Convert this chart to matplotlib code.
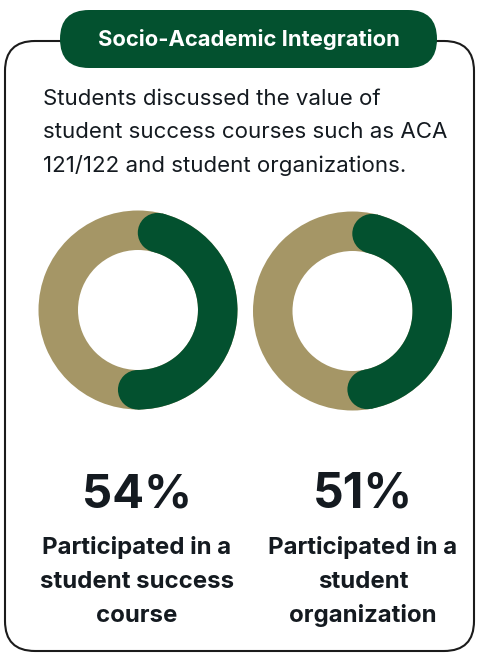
import matplotlib.pyplot as plt
from matplotlib.patches import Wedge, Circle, FancyBboxPatch
import numpy as np

# Data
title = "Socio-Academic Integration"
intro = ["Students discussed the value of",
         "student success courses such as ACA",
         "121/122 and student organizations."]
percents = [54, 51]
labels = [["Participated in a", "student success", "course"],
          ["Participated in a", "student", "organization"]]

GREEN = "#03512f"
TAN = "#a59666"
INK = "#141a20"
FONT = "Inter"

W, H = 478, 654
fig = plt.figure(figsize=(W / 100, H / 100), dpi=100)
ax = fig.add_axes([0, 0, 1, 1])
ax.set_xlim(0, W)
ax.set_ylim(H, 0)
ax.set_aspect("equal")
ax.axis("off")
renderer = fig.canvas.get_renderer()


def fit_width(txt, width_px):
    # scale the font so the text spans the given pixel width
    w = txt.get_window_extent(renderer).width
    txt.set_fontsize(txt.get_fontsize() * width_px / w)


# Outer frame
frame = FancyBboxPatch((5, 41), 469, 610,
                       boxstyle="round,pad=0,rounding_size=30",
                       fc="white", ec="#1b1b1b", lw=1.5)
ax.add_patch(frame)

# Title pill
pill = FancyBboxPatch((60, 10), 377, 58,
                      boxstyle="round,pad=0,rounding_size=29",
                      fc=GREEN, ec="none")
ax.add_patch(pill)
t = ax.text(248.5, 40, title, color="white", fontsize=13, fontweight="bold",
            family=FONT, ha="center", va="center")
fit_width(t, 302)

# Intro text
for i, line in enumerate(intro):
    t = ax.text(43, 105 + i * 33.5, line, color=INK, fontsize=14, family=FONT,
                ha="left", va="baseline")
    if i == 1:
        fit_width(t, 404)
        intro_size = t.get_fontsize()
for tx in ax.texts[1:]:
    tx.set_fontsize(intro_size)

# Donuts
centers = [(138, 310), (352.5, 311)]
R_OUT, R_IN = 99.5, 60
r_mid = (R_OUT + R_IN) / 2
half = (R_OUT - R_IN) / 2
cap = np.degrees(half / r_mid)

for (cx, cy), p in zip(centers, percents):
    ax.add_patch(Wedge((cx, cy), R_OUT, 0, 360, width=R_OUT - R_IN,
                       fc=TAN, ec="none"))
    # clockwise from the top (y axis inverted)
    a0 = -90 + cap
    a1 = -90 + p / 100 * 360 - cap
    ax.add_patch(Wedge((cx, cy), R_OUT, a0, a1, width=R_OUT - R_IN,
                       fc=GREEN, ec="none"))
    for a in (a0, a1):
        r = np.radians(a)
        ax.add_patch(Circle((cx + r_mid * np.cos(r), cy + r_mid * np.sin(r)),
                            half, fc=GREEN, ec="none"))

# Percent numbers and labels
col_x = [137, 363]
for x, p, lab in zip(col_x, percents, labels):
    t = ax.text(x, 507, f"{p}%", color=INK, fontsize=40, fontweight="bold",
                family=FONT, ha="center", va="baseline")
    fit_width(t, 110 if p == 54 else 100)
    for j, line in enumerate(lab):
        t = ax.text(x, 554 + j * 34, line, color=INK, fontsize=16,
                    fontweight="bold", family=FONT, ha="center", va="baseline")
        if j == 0:
            fit_width(t, 190)
            lab_size = t.get_fontsize()
        else:
            t.set_fontsize(lab_size)

fig.savefig("out.png", dpi=100)
